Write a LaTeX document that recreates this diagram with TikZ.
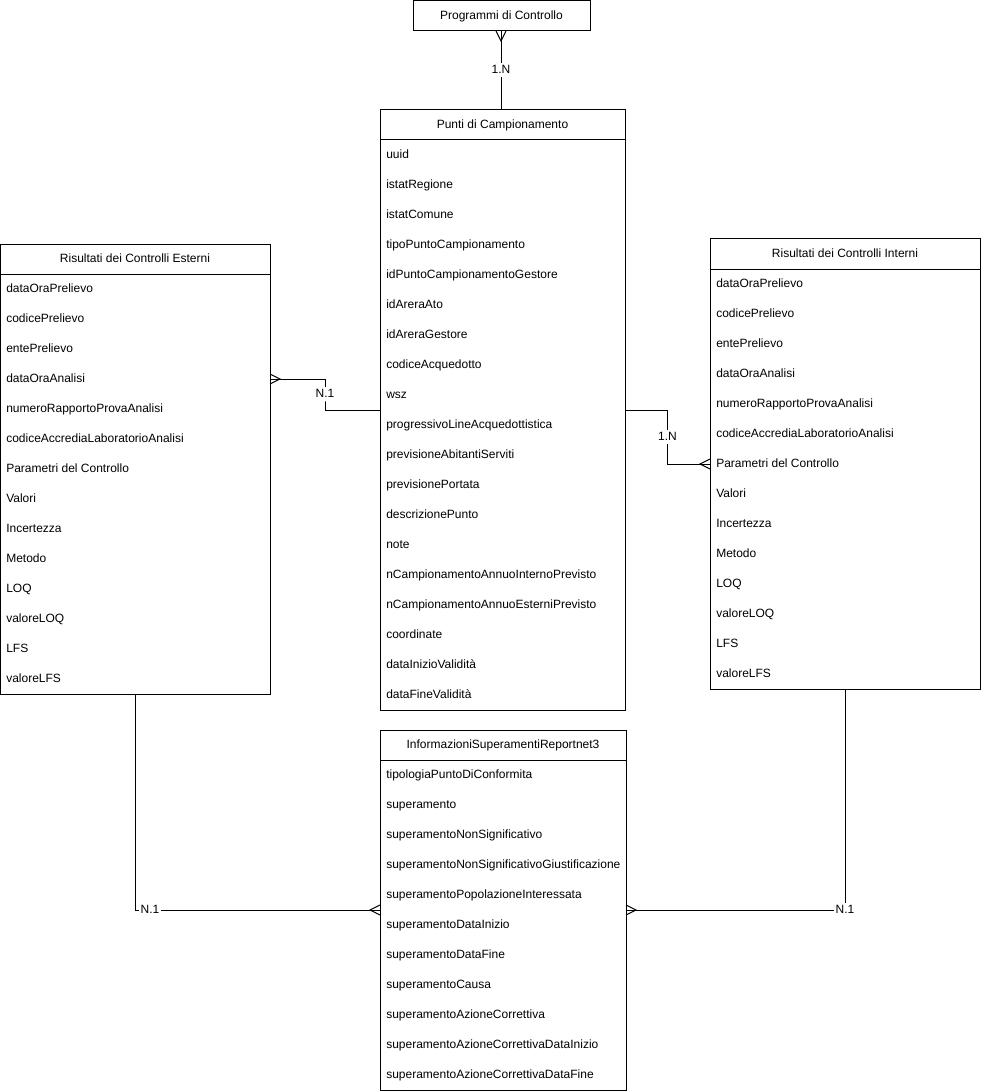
\documentclass[tikz,border=0pt]{standalone}
\usepackage{fontspec}
\setmainfont{Liberation Sans}
\usetikzlibrary{calc}
\newcommand{\entbox}[6]{%
  \node[entity, minimum width=#4*0.75pt, minimum height=#5*0.75pt] (#1) at (#2,#3) {};
  \draw[lnk] ($(#1.north west)+(0,30)$) -- ($(#1.north east)+(0,30)$);
  \node[hdr] (#1-t) at ($(#1.north)+(0,15)$) {#6};
}
\newcommand{\crowfoot}[2]{% point, signed length along x (horizontal link)
  \draw[lnk] ($(#1)+(0,-5)$) -- ($(#1)+(#2,0)$) -- ($(#1)+(0,5)$);
}
\begin{document}
\begin{tikzpicture}[x=0.75pt,y=-0.75pt,
  font=\fontsize{9}{11}\selectfont,
  entity/.style={draw, line width=0.75pt, inner sep=0pt, outer sep=0pt, anchor=north west},
  hdr/.style={anchor=center, inner sep=0pt, text height=6.6pt, text depth=1.9pt},
  rowtxt/.style={anchor=west, inner sep=0pt, text height=6.6pt, text depth=1.9pt},
  lnk/.style={line width=0.75pt},
  lab/.style={fill=white, inner sep=1pt, text height=6.6pt, text depth=1.9pt}]
\useasboundingbox (0,0) rectangle (981,1091);

% Programmi di Controllo
\entbox{prog}{413}{1}{177}{30}{}
\node[hdr] at (prog.center) {Programmi di Controllo};

% Punti di Campionamento
\entbox{pc}{380}{110}{245}{600}{Punti di Campionamento}
\foreach \t [count=\i] in {uuid, istatRegione, istatComune, tipoPuntoCampionamento,
  idPuntoCampionamentoGestore, idAreraAto, idAreraGestore, codiceAcquedotto, wsz,
  progressivoLineAcquedottistica, previsioneAbitantiServiti, previsionePortata,
  descrizionePunto, note, nCampionamentoAnnuoInternoPrevisto,
  nCampionamentoAnnuoEsterniPrevisto, coordinate, dataInizioValidità, dataFineValidità}
  \node[rowtxt] (pc-\i) at ($(pc.north west)+(6,15+30*\i)$) {\t};

% Risultati dei Controlli Esterni
\entbox{ext}{0}{244}{270}{450}{Risultati dei Controlli Esterni}
\foreach \t [count=\i] in {dataOraPrelievo, codicePrelievo, entePrelievo, dataOraAnalisi,
  numeroRapportoProvaAnalisi, codiceAccrediaLaboratorioAnalisi, Parametri del Controllo,
  Valori, Incertezza, Metodo, LOQ, valoreLOQ, LFS, valoreLFS}
  \node[rowtxt] (ext-\i) at ($(ext.north west)+(6,15+30*\i)$) {\t};

% Risultati dei Controlli Interni
\entbox{int}{710}{239}{270}{450}{Risultati dei Controlli Interni}
\foreach \t [count=\i] in {dataOraPrelievo, codicePrelievo, entePrelievo, dataOraAnalisi,
  numeroRapportoProvaAnalisi, codiceAccrediaLaboratorioAnalisi, Parametri del Controllo,
  Valori, Incertezza, Metodo, LOQ, valoreLOQ, LFS, valoreLFS}
  \node[rowtxt] (int-\i) at ($(int.north west)+(6,15+30*\i)$) {\t};

% InformazioniSuperamentiReportnet3
\entbox{info}{380}{730}{246}{360}{InformazioniSuperamentiReportnet3}
\foreach \t [count=\i] in {tipologiaPuntoDiConformita, superamento,
  superamentoNonSignificativo, superamentoNonSignificativoGiustificazione,
  superamentoPopolazioneInteressata, superamentoDataInizio, superamentoDataFine,
  superamentoCausa, superamentoAzioneCorrettiva, superamentoAzioneCorrettivaDataInizio,
  superamentoAzioneCorrettivaDataFine}
  \node[rowtxt] (info-\i) at ($(info.north west)+(6,15+30*\i)$) {\t};

% --- Connectors ---
% Programmi -- Punti
\coordinate (c1) at (prog.south -| 501,0);
\draw[lnk] (c1) -- node[lab]{1.N} (c1 |- pc.north);
\draw[lnk] ($(c1)+(-5,0)$) -- ($(c1)+(0,10)$) -- ($(c1)+(5,0)$);

% Esterni -- Punti
\coordinate (c2) at (ext.east |- ext-4);
\coordinate (m2) at ($(ext.east)!0.5!(pc.west)$);
\draw[lnk] (c2) -| (m2 |- 0,394) node[lab]{N.1} |- (pc.west);
\crowfoot{c2}{10}

% Punti -- Interni
\coordinate (c3) at (int.west |- int-7);
\coordinate (m3) at ($(pc.east)!0.5!(int.west)$);
\draw[lnk] (pc.east) -| (m3 |- 0,437) node[lab]{1.N} |- (c3);
\crowfoot{c3}{-10}

% Esterni -- Info
\coordinate (c4) at (info.west);
\draw[lnk] (ext.south) |- (c4);
\node[lab] at ($(ext.south |- c4)+(15,0)$) {N.1};
\crowfoot{c4}{-10}

% Interni -- Info
\coordinate (c5) at (info.east);
\draw[lnk] (int.south) |- (c5);
\node[lab] at (int.south |- c5) {N.1};
\crowfoot{c5}{10}
\end{tikzpicture}
\end{document}
